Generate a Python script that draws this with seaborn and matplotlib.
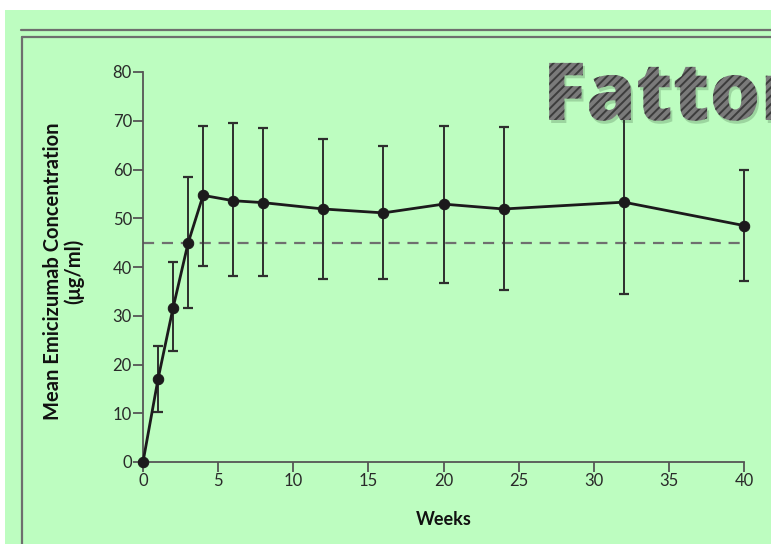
import matplotlib
matplotlib.use("Agg")
import matplotlib.pyplot as plt
import seaborn as sns
import pandas as pd
from matplotlib.textpath import TextPath
from matplotlib.patches import PathPatch, Rectangle
from matplotlib.font_manager import FontProperties
from matplotlib.transforms import Affine2D, IdentityTransform
from matplotlib.lines import Line2D

# ---- data ----
weeks = [0, 1, 2, 3, 4, 6, 8, 12, 16, 20, 24, 32, 40]
mean_conc = [0, 17.0, 31.6, 44.9, 54.7, 53.6, 53.2, 51.9, 51.1, 52.9, 51.9, 53.3, 48.5]
err_upper = [0, 23.8, 41.0, 58.5, 68.9, 69.5, 68.6, 66.2, 64.9, 68.9, 68.7, 72.0, 60.0]
err_lower = [0, 10.2, 22.7, 31.5, 40.3, 38.2, 38.2, 37.6, 37.6, 36.8, 35.3, 34.5, 37.2]
target_level = 45
x_ticks = [0, 5, 10, 15, 20, 25, 30, 35, 40]
y_ticks = [0, 10, 20, 30, 40, 50, 60, 70, 80]
title_word = "Fattore"

df = pd.DataFrame({"Weeks": weeks, "Conc": mean_conc})

sns.set_theme(style="ticks")
plt.rcParams['font.family'] = ['Lato', 'DejaVu Sans']

GREEN = "#bdfdc0"
W, H = 771, 544
fig = plt.figure(figsize=(W / 100, H / 100), dpi=100)
fig.patch.set_facecolor("white")

fig.add_artist(Rectangle((5, 0), W - 5, H - 10, transform=IdentityTransform(),
                         facecolor=GREEN, edgecolor="none", zorder=0))
fcol = "#6e6e6e"
fig.add_artist(Line2D([21, W], [H - 30, H - 30], transform=IdentityTransform(),
                      color=fcol, lw=1.6, zorder=1))
fig.add_artist(Line2D([22, W], [H - 37, H - 37], transform=IdentityTransform(),
                      color=fcol, lw=1.6, zorder=1))
fig.add_artist(Line2D([22, 22], [H - 37, 0], transform=IdentityTransform(),
                      color=fcol, lw=1.6, zorder=1))

ax = fig.add_axes([143 / W, 1 - 462 / H, (744 - 143) / W, (462 - 72) / H])
ax.set_facecolor("none")

ax.plot([0, 40], [target_level, target_level], ls=(0, (5, 3.5)), color="#6f6f6f",
        lw=1.6, zorder=2, clip_on=False)

yerr = [[m - lo for m, lo in zip(mean_conc, err_lower)],
        [hi - m for m, hi in zip(mean_conc, err_upper)]]
ax.errorbar(weeks, mean_conc, yerr=yerr, fmt="none", ecolor="#2e2e2e",
            elinewidth=1.4, capsize=3.8, capthick=1.6, zorder=3, clip_on=False)

sns.lineplot(data=df, x="Weeks", y="Conc", ax=ax, color="#1c1a1c", lw=2.0,
             marker="o", markersize=7.5, markeredgecolor="#1c1a1c", zorder=4,
             clip_on=False)

ax.set_xlim(0, 40)
ax.set_ylim(0, 80)
ax.set_xticks(x_ticks)
ax.set_yticks(y_ticks)
for s in ["top", "right"]:
    ax.spines[s].set_visible(False)
for s in ["left", "bottom"]:
    ax.spines[s].set_color("#555555")
    ax.spines[s].set_linewidth(1.3)
ax.tick_params(axis="both", direction="out", length=7, width=1.3, color="#555555",
               labelsize=12, labelcolor="#2a2a2a", pad=1)

ax.set_xlabel("Weeks", fontsize=13, fontweight="bold", color="#111111", labelpad=16)
ax.set_ylabel("Mean Emicizumab Concentration\n(μg/ml)", fontsize=14.5,
              fontweight="bold", color="#111111", linespacing=1.08)
ax.yaxis.set_label_coords(-0.097, 0.49)

# big hatched "Fattore" word
fp = FontProperties(family="Open Sans", weight=800)
tp = TextPath((0, 0), title_word, size=80, prop=fp)
tr = Affine2D().translate(543, H - 120)
shadow = PathPatch(tr.transform_path(tp), transform=Affine2D().translate(2, -3),
                   facecolor="#2a4a2a", edgecolor="none", alpha=0.22, zorder=8)
fig.add_artist(shadow)
plt.rcParams['hatch.color'] = '#3c3c3c'
plt.rcParams['hatch.linewidth'] = 1.4
patch = PathPatch(tr.transform_path(tp), transform=IdentityTransform(),
                  facecolor="#7a7a7a", edgecolor="#3c3c3c", hatch="////", lw=0,
                  zorder=9)
fig.add_artist(patch)

fig.savefig("out.png", dpi=100, facecolor=fig.get_facecolor())
